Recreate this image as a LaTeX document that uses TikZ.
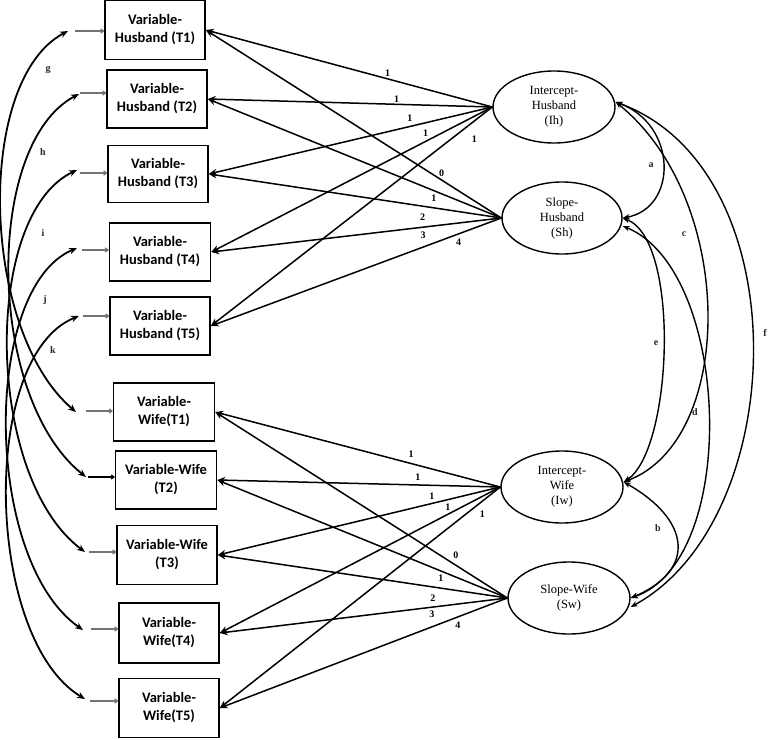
\documentclass[tikz,border=0pt]{standalone}
\usepackage{fontspec}
\setmainfont{Liberation Serif}
\newfontfamily\boxfont{Carlito}
\usetikzlibrary{arrows.meta,shapes.geometric}
\begin{document}
\begin{tikzpicture}[x=1pt,y=-1pt,
  obs/.style={draw, line width=1.6pt, minimum width=100pt, minimum height=58pt, align=center, inner sep=0pt,
    font=\boxfont\bfseries\fontsize{14.5}{18}\selectfont},
  lat/.style={draw, ellipse, line width=1.4pt, minimum width=122pt, minimum height=72pt, inner sep=0pt, align=center,
    font=\fontsize{12.5}{15}\selectfont},
  load/.style={line width=1.5pt, -{Stealth[length=8pt,width=6.5pt]}},
  cov/.style={line width=1.4pt, {Stealth[length=7pt,width=5.5pt]}-{Stealth[length=7pt,width=5.5pt]}},
  rescov/.style={line width=1.8pt, {Stealth[length=8pt,width=6.5pt]}-{Stealth[length=8pt,width=6.5pt]}},
  errarr/.style={line width=1.1pt, draw=black!55, -{To[length=4pt,width=5pt]}},
  numlbl/.style={font=\bfseries\fontsize{10}{10}\selectfont, inner sep=0pt},
  letlbl/.style={font=\bfseries\fontsize{10}{10}\selectfont, text=black!85, inner sep=0pt},
]
\fill[white] (0,0) rectangle (771,739);
\useasboundingbox (0,0) rectangle (771,739);

% observed boxes
\node[obs, minimum width=100pt, minimum height=59pt] (H1) at (155,30) {Variable-\\Husband (T1)};
\node[obs] (H2) at (157,99) {Variable-\\Husband (T2)};
\node[obs, minimum height=57pt] (H3) at (158,174) {Variable-\\Husband (T3)};
\node[obs, minimum width=101pt] (H4) at (160,252) {Variable-\\Husband (T4)};
\node[obs] (H5) at (160,326) {Variable-\\Husband (T5)};
\node[obs, minimum width=101pt] (W1) at (164,412) {Variable-\\Wife(T1)};
\node[obs, minimum width=101pt] (W2) at (166,480) {Variable-Wife\\(T2)};
\node[obs, minimum height=59pt] (W3) at (167,555) {Variable-Wife\\(T3)};
\node[obs, minimum height=60pt] (W4) at (169,633) {Variable-\\Wife(T4)};
\node[obs, minimum height=59pt] (W5) at (169,708) {Variable-\\Wife(T5)};

% latent ellipses
\node[lat] (IH) at (554,107) {Intercept-\\Husband\\(Ih)};
\node[lat, minimum width=120pt] (SH) at (562,218) {Slope-\\Husband\\(Sh)};
\node[lat] (IW) at (562,487) {Intercept-\\Wife\\(Iw)};
\node[lat] (SW) at (569,598) {Slope-Wife\\(Sw)};

% loadings husband
\draw[load] (IH.west) -- node[numlbl, pos=.365, yshift=6pt]{1} (H1.east);
\draw[load] (IH.west) -- node[numlbl, pos=.336, yshift=5pt]{1} (H2.east);
\draw[load] (IH.west) -- node[numlbl, pos=.291, yshift=8.5pt]{1} (H3.east);
\draw[load] (IH.west) -- node[numlbl, pos=.237, yshift=8pt]{1} (H4.east);
\draw[load] (IH.west) -- node[numlbl, pos=.064, yshift=-18pt]{1} (H5.east);
\draw[load] (SH.west) -- node[numlbl, pos=.202, yshift=7pt]{0} (H1.east);
\draw[load] (SH.west) -- node[numlbl, pos=.23, yshift=-8pt]{1} (H2.east);
\draw[load] (SH.west) -- node[numlbl, pos=.269, yshift=-11pt]{2} (H3.east);
\draw[load] (SH.west) -- node[numlbl, pos=.27, yshift=-8pt]{3} (H4.east);
\draw[load] (SH.west) -- node[numlbl, pos=.147, yshift=-8pt]{4} (H5.east);

% loadings wife
\draw[load] (IW.west) -- node[numlbl, pos=.3125, yshift=9pt]{1} (W1.east);
\draw[load] (IW.west) -- node[numlbl, pos=.291, yshift=8pt]{1} (W2.east);
\draw[load] (IW.west) -- node[numlbl, pos=.242, yshift=7pt]{1} (W3.east);
\draw[load] (IW.west) -- node[numlbl, pos=.187, yshift=7.5pt]{1} (W4.east);
\draw[load] (IW.west) -- node[numlbl, pos=.064, yshift=-13pt]{1} (W5.east);
\draw[load] (SW.west) -- node[numlbl, pos=.176, yshift=10pt]{0} (W1.east);
\draw[load] (SW.west) -- node[numlbl, pos=.229, yshift=-7pt]{1} (W2.east);
\draw[load] (SW.west) -- node[numlbl, pos=.257, yshift=-11pt]{2} (W3.east);
\draw[load] (SW.west) -- node[numlbl, pos=.262, yshift=-6.6pt]{3} (W4.east);
\draw[load] (SW.west) -- node[numlbl, pos=.172, yshift=-8pt]{4} (W5.east);

% residual arrows (free ends)
\coordinate (sH1) at (75,31);  \coordinate (tH1) at (68,31);
\coordinate (sH2) at (80,93);  \coordinate (tH2) at (79,94);
\coordinate (sH3) at (80,173); \coordinate (tH3) at (77,170);
\coordinate (sH4) at (82,250); \coordinate (tH4) at (77,248);
\coordinate (sH5) at (83,316); \coordinate (tH5) at (79,316);
\coordinate (sW1) at (86,411); \coordinate (tW1) at (76,412);
\coordinate (sW2) at (88,477); \coordinate (tW2) at (86,477);
\coordinate (sW3) at (89,552); \coordinate (tW3) at (85,552);
\coordinate (sW4) at (91,629); \coordinate (tW4) at (83,630);
\coordinate (sW5) at (90,701); \coordinate (tW5) at (85,699);

\draw[errarr] (sH1) -- (sH1 -| H1.west);
\draw[errarr] (sH2) -- (sH2 -| H2.west);
\draw[errarr] (sH3) -- (sH3 -| H3.west);
\draw[errarr] (sH4) -- (sH4 -| H4.west);
\draw[errarr] (sH5) -- (sH5 -| H5.west);
\draw[errarr] (sW1) -- (sW1 -| W1.west);
\draw[errarr, draw=black] (sW2) -- (sW2 -| W2.west);
\draw[errarr] (sW3) -- (sW3 -| W3.west);
\draw[errarr] (sW4) -- (sW4 -| W4.west);
\draw[errarr] (sW5) -- (sW5 -| W5.west);

% residual covariances (left)
\draw[rescov] (tH1) .. controls +(-93,49) and +(-96,-82) .. (tW1);
\draw[rescov] (tH2) .. controls +(-95,50) and +(-100,-80) .. (tW2);
\draw[rescov] (tH3) .. controls +(-95,45) and +(-100,-75) .. (tW3);
\draw[rescov] (tH4) .. controls +(-95,40) and +(-100,-70) .. (tW4);
\draw[rescov] (tH5) .. controls +(-100,40) and +(-100,-60) .. (tW5);
\node[letlbl] (lg) at (48,70) {g};
\node[letlbl] (lh) at (43,152) {h};
\node[letlbl] (li) at (43,233) {i};
\node[letlbl] (lj) at (45,300) {j};
\node[letlbl] (lk) at (53,350) {k};

% latent covariances (right)
\draw[cov] ([yshift=5pt]IH.east) .. controls +(62,23) and +(55,-10) .. (SH.east);
\draw[cov] ([yshift=5pt]IH.east) .. controls +(121,98) and +(112,-42) .. ([yshift=5pt]IW.east);
\draw[cov] (SH.east) .. controls +(58,22) and +(49,-32) .. ([yshift=5pt]IW.east);
\draw[cov] ([yshift=-8pt]SH.east) .. controls +(108,44) and +(110,-38) .. (SW.east);
\draw[cov] ([yshift=5pt]IH.east) .. controls +(185,68) and +(160,-87) .. ([yshift=-9pt]SW.east);
\draw[cov] ([yshift=5pt]IW.east) .. controls +(67,38) and +(66,-28) .. (SW.east);
\node[letlbl] (la) at (651,165) {a};
\node[letlbl] (lb) at (658,528) {b};
\node[letlbl] (lc) at (684,234) {c};
\node[letlbl] (ld) at (695,412) {d};
\node[letlbl] (le) at (656,343) {e};
\node[letlbl] (lf) at (765,333) {f};
\end{tikzpicture}
\end{document}
